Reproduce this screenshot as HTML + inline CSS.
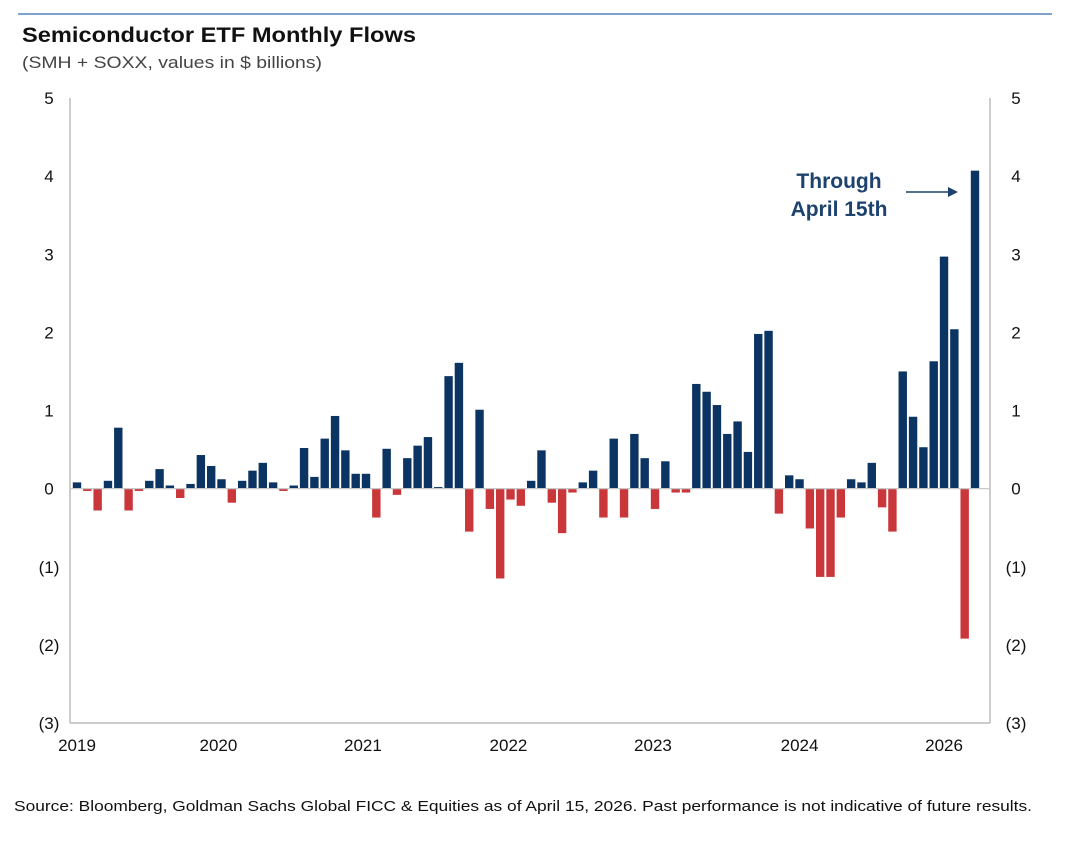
<!DOCTYPE html>
<html><head><meta charset="utf-8"><style>
body{margin:0;background:#fff;font-family:"Liberation Sans",Arial,sans-serif;}
svg text{font-family:"Liberation Sans",Arial,sans-serif;}
</style></head><body>
<svg id="chart" width="1080" height="844" viewBox="0 0 1080 844" xmlns="http://www.w3.org/2000/svg">
<rect x="0" y="0" width="1080" height="844" fill="#fff"/>
<line x1="18" y1="14" x2="1052" y2="14" stroke="#7fa3cc" stroke-width="2"/>
<text x="22" y="42" font-size="21" font-weight="bold" fill="#111" textLength="394" lengthAdjust="spacingAndGlyphs">Semiconductor ETF Monthly Flows</text>
<text x="22" y="68" font-size="17" fill="#444" textLength="300" lengthAdjust="spacingAndGlyphs">(SMH + SOXX, values in $ billions)</text>
<g id="plot"></g>
<text x="839" y="188" font-size="21" font-weight="bold" fill="#1d426e" text-anchor="middle">Through</text>
<text x="839" y="216" font-size="21" font-weight="bold" fill="#1d426e" text-anchor="middle">April 15th</text>
<line x1="906" y1="192" x2="950" y2="192" stroke="#1d426e" stroke-width="1.6"/>
<polygon points="958,192 948,187 948,197" fill="#1d426e"/>
<text x="14" y="811" font-size="15" fill="#111" textLength="1018" lengthAdjust="spacingAndGlyphs">Source: Bloomberg, Goldman Sachs Global FICC &amp; Equities as of April 15, 2026. Past performance is not indicative of future results.</text>
</svg>
<script>
const values = [0.08,-0.03,-0.28,0.1,0.78,-0.28,-0.03,0.1,0.25,0.04,-0.12,0.06,0.43,0.29,0.12,-0.18,0.1,0.23,0.33,0.08,-0.03,0.04,0.52,0.15,0.64,0.93,0.49,0.19,0.19,-0.37,
0.51,-0.08,0.39,0.55,0.66,0.02,1.44,1.61,-0.55,1.01,-0.26,-1.15,-0.14,-0.22,0.1,0.49,-0.18,-0.57,-0.05,0.08,0.23,-0.37,0.64,-0.37,0.7,0.39,-0.26,0.35,-0.05,-0.05,
1.34,1.24,1.07,0.70,0.86,0.47,1.98,2.02,-0.32,0.17,0.12,-0.51,-1.13,-1.13,-0.37,0.12,0.08,0.33,-0.24,-0.55,1.5,0.92,0.53,1.63,2.97,2.04,-1.92,4.07];
const yTicks = [5,4,3,2,1,0,-1,-2,-3];
const yTickLabels = ["5","4","3","2","1","0","(1)","(2)","(3)"];
const xTickLabels = ["2019","2020","2021","2022","2023","2024","2026"];
const xTickMonths = [0,13.7,27.7,41.8,55.8,70,84];

const NS="http://www.w3.org/2000/svg";
const g=document.getElementById('plot');
const L=70,R=990,T=98,B=723,ymax=5,ymin=-3;
const x0=77,pitch=(975-77)/87;
function y(v){return T+(ymax-v)/(ymax-ymin)*(B-T);}
function x(i){return x0+i*pitch;}
function mk(tag,attrs){const e=document.createElementNS(NS,tag);for(const k in attrs)e.setAttribute(k,attrs[k]);g.appendChild(e);return e;}

let e;
e=mk('line',{x1:L,y1:T,x2:L,y2:B,stroke:'#bbb','stroke-width':1.5});


e=mk('line',{x1:R,y1:T,x2:R,y2:B,stroke:'#bbb','stroke-width':1.5});


e=mk('line',{x1:L,y1:B,x2:R,y2:B,stroke:'#bbb','stroke-width':1.5});



values.forEach((v,i)=>{
  const top=Math.min(y(v),y(0)),h=Math.max(Math.abs(y(v)-y(0)),0.8);
  const r=mk('rect',{x:x(i)-4.2,y:top,width:8.4,height:h,fill:v>=0?'#0c3462':'#c9373b'});
  
  
});
e=mk('line',{x1:L,y1:y(0),x2:R,y2:y(0),stroke:'#c8c8c8','stroke-width':1.2});



yTicks.forEach((t,i)=>{
  let a=mk('text',{x:49,y:y(t)+6,'font-size':17,fill:'#111','text-anchor':'middle'});
  a.textContent=yTickLabels[i];
  
  
  let b=mk('text',{x:1016,y:y(t)+6,'font-size':17,fill:'#111','text-anchor':'middle'});
  b.textContent=yTickLabels[i];
  
  
});
xTickLabels.forEach((l,i)=>{
  const a=mk('text',{x:x(xTickMonths[i]),y:751,'font-size':17,fill:'#111','text-anchor':'middle'});
  a.textContent=l;
  
  
});
</script>
</body></html>
